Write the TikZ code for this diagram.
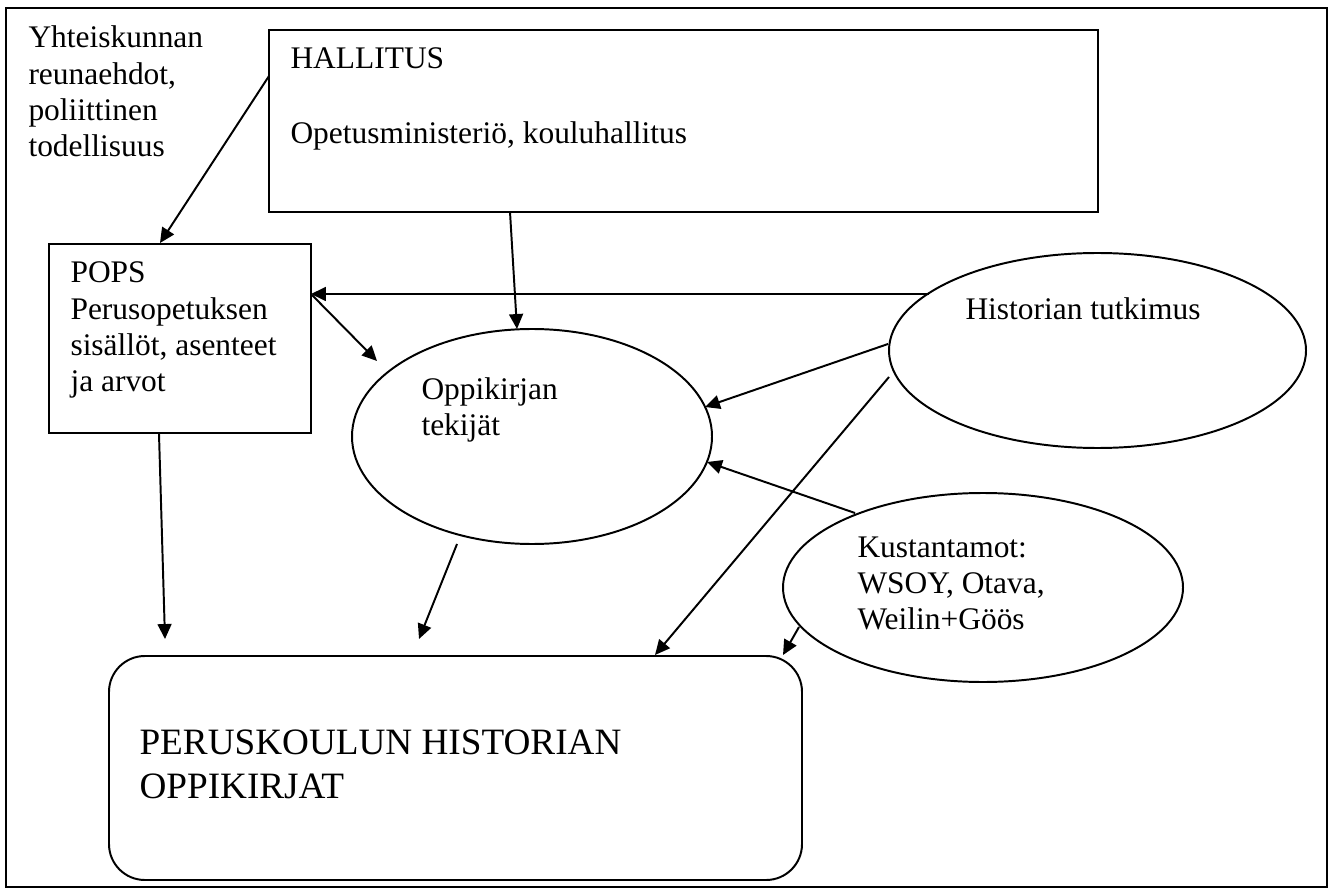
\documentclass[tikz,border=0pt]{standalone}
\usepackage{fontspec}
\setmainfont{Liberation Serif}
\usetikzlibrary{arrows.meta,shapes.geometric}
\newcommand\pxu{0.3817pt}
\newcommand\txtfont{\fontsize{12pt}{13.85pt}\selectfont}
\newcommand\bigtxtfont{\fontsize{14.2pt}{16.8pt}\selectfont}
\newcommand\lns[1]{\begin{tabular}[t]{@{}l@{}}#1\end{tabular}}
\tikzset{
  shp/.style={draw, line width=0.75pt, inner sep=0pt, outer sep=0pt},
  lbl/.style={anchor=base west, inner sep=0pt, font=\txtfont},
  conn/.style={draw, line width=0.75pt, -{Triangle[length=5.7pt,width=5.3pt]}}
}
\begin{document}
\begin{tikzpicture}[x=0.3817pt, y=-0.3817pt]
\useasboundingbox (0,0) rectangle (1333,890);
% shapes
\node[shp, minimum width=1321*\pxu, minimum height=879*\pxu] (frame) at (666.5,447.5) {};
\node[shp, minimum width=829*\pxu, minimum height=182*\pxu] (hall) at (683.5,121) {};
\node[shp, minimum width=262*\pxu, minimum height=189*\pxu] (pops) at (180,338.5) {};
\node[shp, ellipse, minimum width=360*\pxu, minimum height=215*\pxu] (opp) at (532,436.5) {};
\node[shp, ellipse, minimum width=417*\pxu, minimum height=195*\pxu] (hist) at (1097.5,350.5) {};
\node[shp, ellipse, minimum width=400*\pxu, minimum height=189*\pxu] (kust) at (983,587.5) {};
\node[shp, rounded corners=13.7pt, minimum width=693*\pxu, minimum height=224*\pxu] (book) at (455.5,768) {};
% texts
\node[lbl] (yhtT) at (28,48) {\lns{Yhteiskunnan\\reunaehdot,\\poliittinen\\todellisuus}};
\node[lbl] (hallT) at (290,69) {HALLITUS};
\node[lbl] (hallT2) at (290,144) {Opetusministeriö, kouluhallitus};
\node[lbl] (popsT) at (70,283) {\lns{POPS\\Perusopetuksen\\sisällöt, asenteet\\ja arvot}};
\node[lbl] (oppT) at (421,399) {\lns{Oppikirjan\\tekijät}};
\node[lbl] (histT) at (965,320) {Historian tutkimus};
\node[lbl] (kustT) at (857,557) {\lns{Kustantamot:\\WSOY, Otava,\\Weilin+Göös}};
\node[lbl, font=\bigtxtfont] (bookT) at (139,754) {\lns{PERUSKOULUN HISTORIAN\\OPPIKIRJAT}};
% connector end points
\coordinate (a1s) at (269,76);   \coordinate (a1e) at (160,243);
\coordinate (a2s) at (510,212);  \coordinate (a2e) at (517,329);
\coordinate (a3s) at (929,294);  \coordinate (a3e) at (311,294);
\coordinate (a4s) at (312,295);  \coordinate (a4e) at (377,361);
\coordinate (a5s) at (888,344);  \coordinate (a5e) at (705,407);
\coordinate (a6s) at (889,377);  \coordinate (a6e) at (655,655);
\coordinate (a7s) at (855,513);  \coordinate (a7e) at (707,462);
\coordinate (a8s) at (457,544);  \coordinate (a8e) at (419,639);
\coordinate (a9s) at (159,434);  \coordinate (a9e) at (165,639);
\coordinate (a10s) at (799,627); \coordinate (a10e) at (783,655);
% connectors
\draw[conn] (a1s) -- (a1e);
\draw[conn] (a2s) -- (a2e);
\draw[conn] (a3s) -- (a3e);
\draw[conn] (a4s) -- (a4e);
\draw[conn] (a5s) -- (a5e);
\draw[conn] (a6s) -- (a6e);
\draw[conn] (a7s) -- (a7e);
\draw[conn] (a8s) -- (a8e);
\draw[conn] (a9s) -- (a9e);
\draw[conn] (a10s) -- (a10e);
\end{tikzpicture}
\end{document}
